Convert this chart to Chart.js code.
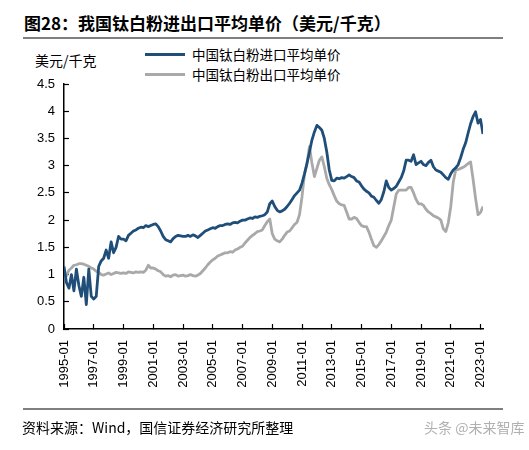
<!DOCTYPE html>
<html lang="zh-CN">
<head>
<meta charset="utf-8">
<title>我国钛白粉进出口平均单价</title>
<script src="https://cdn.jsdelivr.net/npm/chart.js@4.4.1/dist/chart.umd.min.js"></script>
<style>
  html, body { margin: 0; padding: 0; background: #fff; }
  body { width: 529px; height: 450px; position: relative; overflow: hidden; font-family: "Noto Sans CJK SC", sans-serif; color: #000; }
  #chartBox { position: absolute; left: 0; top: 0; width: 529px; height: 450px; }
  .title { position: absolute; left: 24px; top: 10px; font-size: 17px; font-weight: bold; line-height: 26px; white-space: nowrap; }
  .rule { position: absolute; left: 23px; width: 480px; height: 2px; background: #7f7f7f; }
  .unit { position: absolute; left: 35px; top: 50px; font-size: 14px; line-height: 20px; white-space: nowrap; }
  .legend { position: absolute; left: 145px; top: 44px; font-size: 13.5px; }
  .legend .item { display: flex; align-items: center; height: 20px; white-space: nowrap; }
  .legend .swatch { display: inline-block; width: 40px; height: 3px; margin-right: 7px; }
  .source { position: absolute; left: 22px; top: 417px; font-size: 14px; line-height: 20px; white-space: nowrap; }
  .mark { position: absolute; left: 424px; top: 417px; font-size: 14px; line-height: 20px; color: #b0b0b0; white-space: nowrap; }
</style>
</head>
<body>
<div class="title">图28：我国钛白粉进出口平均单价（美元/千克）</div>
<div class="rule" style="top:37px"></div>
<div class="unit">美元/千克</div>
<div class="legend" id="legend"></div>
<div id="chartBox"><canvas id="priceChart"></canvas></div>
<div class="rule" style="top:408px"></div>
<div class="source">资料来源：Wind，国信证券经济研究所整理</div>
<div class="mark">头条 @未来智库</div>
<script>
// one point every two months, first point 1995-01
const monthStep = 2;
const tickLabels = ['1995-01', '1997-01', '1999-01', '2001-01', '2003-01', '2005-01', '2007-01',
  '2009-01', '2011-01', '2013-01', '2015-01', '2017-01', '2019-01', '2021-01', '2023-01'];

// 中国钛白粉进口平均单价 (美元/千克)
const importPrice = [
  1.15, 0.85, 0.75, 1.0, 0.7, 1.1,      // 1995
  0.8, 0.6, 0.95, 0.45, 1.1, 0.6,       // 1996
  0.55, 0.6, 1.15, 1.25, 1.3, 1.45,     // 1997
  1.3, 1.6, 1.4, 1.5, 1.7, 1.65,        // 1998
  1.65, 1.62, 1.72, 1.76, 1.8, 1.82,    // 1999
  1.85, 1.87, 1.86, 1.9, 1.88, 1.9,     // 2000
  1.92, 1.93, 1.88, 1.8, 1.7, 1.64,     // 2001
  1.62, 1.6, 1.66, 1.7, 1.72, 1.71,     // 2002
  1.7, 1.7, 1.72, 1.7, 1.73, 1.71,      // 2003
  1.68, 1.72, 1.76, 1.8, 1.82, 1.84,    // 2004
  1.86, 1.85, 1.88, 1.9, 1.9, 1.92,     // 2005
  1.93, 1.92, 1.95, 1.96, 1.95, 1.98,   // 2006
  2.0, 2.0, 2.02, 2.04, 2.03, 2.06,     // 2007
  2.05, 2.07, 2.08, 2.1, 2.15, 2.3,     // 2008
  2.35, 2.25, 2.18, 2.15, 2.17, 2.2,    // 2009
  2.25, 2.31, 2.38, 2.45, 2.5, 2.55,    // 2010
  2.68, 2.85, 3.04, 3.25, 3.47, 3.62,   // 2011
  3.74, 3.7, 3.65, 3.5, 3.25, 2.92,     // 2012
  2.73, 2.72, 2.77, 2.76, 2.78, 2.77,   // 2013
  2.8, 2.83, 2.8, 2.78, 2.72, 2.7,      // 2014
  2.63, 2.57, 2.53, 2.5, 2.44, 2.42,    // 2015
  2.36, 2.31, 2.38, 2.52, 2.72, 2.6,    // 2016
  2.55, 2.58, 2.62, 2.7, 2.78, 2.9,     // 2017
  3.1, 3.1, 3.08, 3.2, 3.02, 3.05,      // 2018
  3.08, 3.02, 3.0, 3.06, 3.1, 2.98,     // 2019
  2.92, 2.9, 2.88, 2.83, 2.78, 2.75,    // 2020
  2.85, 2.92, 2.96, 3.02, 3.15, 3.3,    // 2021
  3.42, 3.6, 3.77, 3.9, 3.99, 3.78,     // 2022
  3.85, 3.58                            // 2023
];

// 中国钛白粉出口平均单价 (美元/千克)
const exportPrice = [
  0.92, 0.98, 1.08, 1.12, 1.17, 1.18,   // 1995
  1.2, 1.2, 1.19, 1.17, 1.15, 1.12,     // 1996
  1.1, 1.06, 1.04, 1.0, 0.99, 1.01,     // 1997
  1.03, 1.0, 1.02, 1.04, 1.03, 1.02,    // 1998
  1.03, 1.02, 1.05, 1.04, 1.03, 1.05,   // 1999
  1.04, 1.05, 1.04, 1.08, 1.17, 1.12,   // 2000
  1.12, 1.1, 1.07, 1.05, 1.0, 0.97,     // 2001
  0.98, 0.96, 0.99, 1.0, 0.97, 0.98,    // 2002
  0.99, 0.97, 0.98, 1.0, 0.98, 0.97,    // 2003
  0.99, 1.02, 1.07, 1.12, 1.18, 1.23,   // 2004
  1.27, 1.3, 1.34, 1.36, 1.38, 1.4,     // 2005
  1.4, 1.42, 1.41, 1.45, 1.47, 1.5,     // 2006
  1.52, 1.58, 1.63, 1.68, 1.72, 1.75,   // 2007
  1.79, 1.8, 1.82, 1.9, 1.97, 2.02,     // 2008
  1.75, 1.65, 1.62, 1.6, 1.65, 1.72,    // 2009
  1.78, 1.8, 1.86, 1.92, 1.96, 2.1,     // 2010
  2.43, 2.85, 3.04, 3.35, 3.05, 2.8,    // 2011
  2.95, 3.1, 3.16, 2.98, 2.77, 2.65,    // 2012
  2.56, 2.45, 2.35, 2.3, 2.28, 2.27,    // 2013
  2.15, 2.02, 2.02, 2.05, 2.03, 1.96,   // 2014
  1.9, 1.88, 1.88, 1.78, 1.65, 1.53,    // 2015
  1.5, 1.55, 1.62, 1.7, 1.78, 1.9,      // 2016
  2.0, 2.24, 2.48, 2.55, 2.55, 2.55,    // 2017
  2.55, 2.6, 2.6, 2.5, 2.38, 2.3,       // 2018
  2.3, 2.27, 2.2, 2.15, 2.12, 2.08,     // 2019
  2.06, 2.04, 2.0, 1.84, 1.79, 1.95,    // 2020
  2.25, 2.7, 2.92, 2.93, 2.95, 2.97,    // 2021
  3.0, 3.04, 3.07, 2.75, 2.4, 2.1,      // 2022
  2.14, 2.25                            // 2023
];

const toPoints = arr => arr.map((v, i) => ({ x: i * monthStep, y: v }));

const axisFont = { family: 'Liberation Sans', size: 13 };

const priceChart = new Chart(document.getElementById('priceChart'), {
  type: 'line',
  data: {
    datasets: [{
      label: '中国钛白粉进口平均单价',
      data: toPoints(importPrice),
      borderColor: '#1F4E79',
      borderWidth: 2.8,
      pointRadius: 0,
      borderJoinStyle: 'round'
    }, {
      label: '中国钛白粉出口平均单价',
      data: toPoints(exportPrice),
      borderColor: '#A9A9A9',
      borderWidth: 2.8,
      pointRadius: 0,
      borderJoinStyle: 'round'
    }]
  },
  options: {
    responsive: true,
    maintainAspectRatio: false,
    animation: false,
    layout: { padding: { left: 24, right: 46, top: 84, bottom: 61 } },
    plugins: { legend: { display: false }, tooltip: { enabled: false } },
    scales: {
      x: {
        type: 'linear',
        min: 0,
        max: (importPrice.length - 1) * monthStep,
        afterFit: s => { s.height = 60; },
        border: { color: '#000', width: 1.5 },
        grid: { drawOnChartArea: false, tickLength: -5, tickColor: '#000', tickWidth: 1.2 },
        ticks: {
          stepSize: 24, includeBounds: false, autoSkip: false,
          minRotation: 90, maxRotation: 90, padding: 16,
          color: '#000', font: axisFont,
          callback: v => tickLabels[v / 24] ?? ''
        }
      },
      y: {
        min: 0,
        max: 4.5,
        afterFit: s => { s.width = 40; },
        border: { color: '#000', width: 1.5 },
        grid: { drawOnChartArea: false, tickLength: -5, tickColor: '#000', tickWidth: 1.2 },
        ticks: { stepSize: 0.5, padding: 14, color: '#000', font: axisFont, callback: v => String(v) }
      }
    }
  }
});

// legend on the page, built from the datasets
const legendBox = document.getElementById('legend');
priceChart.data.datasets.forEach(ds => {
  const item = document.createElement('div');
  item.className = 'item';
  item.innerHTML = '<span class="swatch" style="background:' + ds.borderColor + '"></span>' + ds.label;
  legendBox.appendChild(item);
});
</script>
</body>
</html>
